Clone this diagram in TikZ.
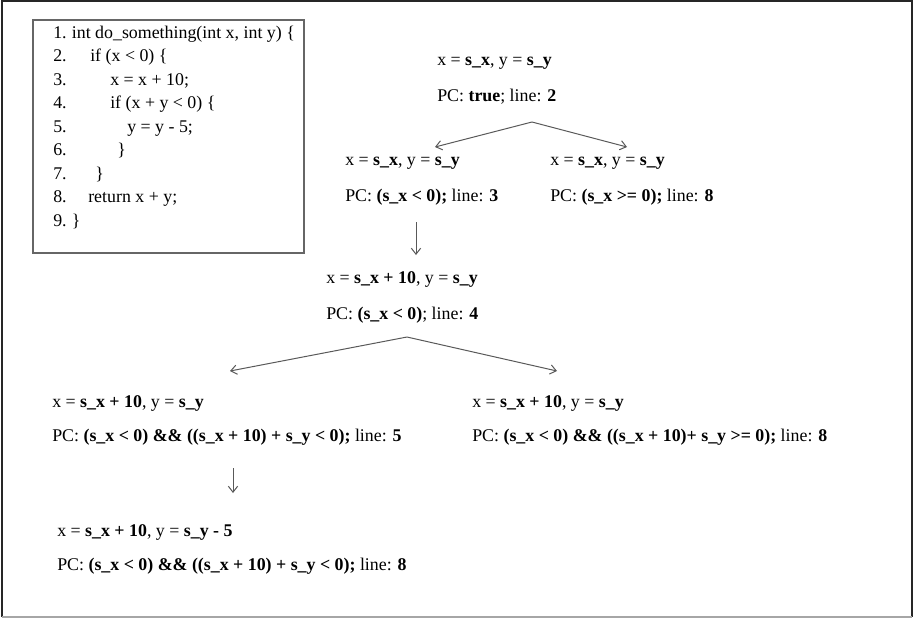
\documentclass[tikz,border=0pt]{standalone}
\usepackage{fontspec}
\setmainfont{Liberation Serif}
\usetikzlibrary{positioning,arrows.meta}

\tikzset{
  txt/.style={inner sep=0pt, anchor=base west, font=\fontsize{13.4}{16}\selectfont},
  arr/.style={draw=black!65, line width=0.75pt, -{Straight Barb[length=4.5pt,width=7pt]}},
}

\begin{document}
\begin{tikzpicture}[x=0.75pt,y=-0.75pt]
  \useasboundingbox (0,0) rectangle (914,619);
  % outer frame
  \draw[black!85, line width=1.5pt] (2,617) -- (2,1) -- (912,1) -- (912,617);
  \draw[black!35, line width=0.8pt] (2,617) -- (912,617);

  % code listing
  \draw[black!60, line width=1.2pt] (33,20) rectangle (304,253);
  \foreach \n in {1,...,9}
    \node[txt] (num\n) at (53,{38+23.5*(\n-1)}) {\n.};
  \node[txt, right=3.5pt of num1.base east, anchor=base west] (c1) {int do\_something(int x, int y) \{};
  \node[txt] (c2) at (90,61.5)  {if (x < 0) \{};
  \node[txt] (c3) at (110,85)   {x = x + 10;};
  \node[txt] (c4) at (110,108.5){if (x + y < 0) \{};
  \node[txt] (c5) at (127,132)  {y = y - 5;};
  \node[txt] (c6) at (117,155.5){\}};
  \node[txt] (c7) at (95,179)   {\}};
  \node[txt] (c8) at (88,202.5) {return x + y;};
  \node[txt, right=3.5pt of num9.base east, anchor=base west] (c9) {\}};

  % states
  \node[txt] (s0) at (437,65) {x = \textbf{s\_x}, y = \textbf{s\_y}};
  \node[txt, below=27pt of s0.base west, anchor=base west] (s0pc) {PC: \textbf{true}; line: \textbf{2}};

  \node[txt] (s1) at (345,165) {x = \textbf{s\_x}, y = \textbf{s\_y}};
  \node[txt, below=27pt of s1.base west, anchor=base west] (s1pc) {PC: \textbf{(s\_x < 0);} line: \textbf{3}};

  \node[txt] (s2) at (550,165) {x = \textbf{s\_x}, y = \textbf{s\_y}};
  \node[txt, below=27pt of s2.base west, anchor=base west] (s2pc) {PC: \textbf{(s\_x >= 0);} line: \textbf{8}};

  \node[txt] (s3) at (326,283) {x = \textbf{s\_x + 10}, y = \textbf{s\_y}};
  \node[txt, below=27pt of s3.base west, anchor=base west] (s3pc) {PC: \textbf{(s\_x < 0)}; line: \textbf{4}};

  \node[txt] (s4) at (52,407) {x = \textbf{s\_x + 10}, y = \textbf{s\_y}};
  \node[txt, below=26pt of s4.base west, anchor=base west] (s4pc) {PC: \textbf{(s\_x < 0) \&\& ((s\_x + 10) + s\_y < 0);} line: \textbf{5}};

  \node[txt] (s5) at (472,407) {x = \textbf{s\_x + 10}, y = \textbf{s\_y}};
  \node[txt, below=26pt of s5.base west, anchor=base west] (s5pc) {PC: \textbf{(s\_x < 0) \&\& ((s\_x + 10)+ s\_y >= 0);} line: \textbf{8}};

  \node[txt] (s6) at (57,536) {x = \textbf{s\_x + 10}, y = \textbf{s\_y - 5}};
  \node[txt, below=26pt of s6.base west, anchor=base west] (s6pc) {PC: \textbf{(s\_x < 0) \&\& ((s\_x + 10) + s\_y < 0);} line: \textbf{8}};

  % branches
  \coordinate (f0) at (532,122);
  \coordinate (t1) at (435,147);
  \coordinate (t2) at (627,147);
  \draw[arr] (f0) -- (t1);
  \draw[arr] (f0) -- (t2);

  \coordinate (d1) at (416,222);
  \coordinate (e1) at (416,255);
  \draw[arr] (d1) -- (e1);

  \coordinate (f1) at (407,337);
  \coordinate (t3) at (230,371);
  \coordinate (t4) at (557,371);
  \draw[arr] (f1) -- (t3);
  \draw[arr] (f1) -- (t4);

  \coordinate (d2) at (233,468);
  \coordinate (e2) at (233,493);
  \draw[arr] (d2) -- (e2);
\end{tikzpicture}
\end{document}
